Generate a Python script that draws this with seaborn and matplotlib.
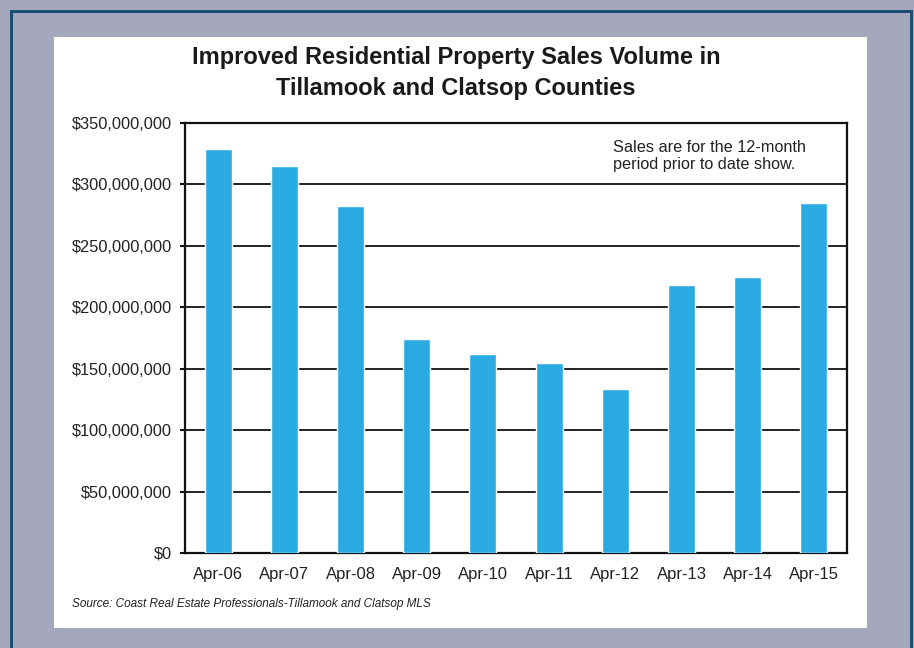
import matplotlib
matplotlib.use("Agg")
import matplotlib.pyplot as plt
from matplotlib.patches import Rectangle
from matplotlib.ticker import FuncFormatter, MultipleLocator
import seaborn as sns
import pandas as pd

# Sales volume for the 12-month period ending each April
periods = ["Apr-06", "Apr-07", "Apr-08", "Apr-09", "Apr-10",
           "Apr-11", "Apr-12", "Apr-13", "Apr-14", "Apr-15"]
sales_volume = [328.5e6, 314.6e6, 282.6e6, 173.9e6, 161.9e6,
                154.6e6, 133.4e6, 218.1e6, 224.8e6, 285.0e6]

title = "Improved Residential Property Sales Volume in\nTillamook and Clatsop Counties"
note = "Sales are for the 12-month\nperiod prior to date show."
source = "Source: Coast Real Estate Professionals-Tillamook and Clatsop MLS"

df = pd.DataFrame({"period": periods, "sales": sales_volume})

sns.set_style("white")
plt.rcParams["font.family"] = ["Liberation Sans", "DejaVu Sans"]

W, H = 914, 648
fig = plt.figure(figsize=(W / 100, H / 100), dpi=100)
fig.patch.set_facecolor("#A5A8BD")


def px_rect(x0, y0, x1, y1, color, z=-1):
    """Rectangle in pixel coordinates measured from the top-left corner."""
    fig.patches.append(Rectangle((x0 / W, 1 - y1 / H), (x1 - x0) / W, (y1 - y0) / H,
                                 transform=fig.transFigure, facecolor=color,
                                 edgecolor="none", zorder=z))


# dark frame around the panel
border = "#1D4E74"
px_rect(10, 10, 913, 13, border)
px_rect(10, 10, 13, 648, border)
px_rect(910, 10, 913, 648, border)
# white chart panel
px_rect(54, 37, 867, 628, "white")

ax = fig.add_axes([185 / W, 1 - 553 / H, (847 - 185) / W, (553 - 123) / H])
ax.set_zorder(2)
ax.set_facecolor("white")

sns.barplot(data=df, x="period", y="sales", color="#29ABE2", saturation=1,
            width=0.41, ax=ax, zorder=3)

ax.set_ylim(0, 350e6)
ax.set_xlim(-0.5, len(periods) - 0.5)
ax.yaxis.set_major_locator(MultipleLocator(50e6))
ax.yaxis.set_major_formatter(FuncFormatter(lambda v, _: f"${v:,.0f}"))
ax.yaxis.grid(True, color="#111111", linewidth=1.3, zorder=0)
ax.set_axisbelow(True)
ax.set_xlabel("")
ax.set_ylabel("")

# category ticks sit between the bars
ax.set_xticks(range(len(periods)))
ax.set_xticklabels(periods)
ax.set_xticks([i + 0.5 for i in range(-1, len(periods))], minor=True)
ax.tick_params(axis="x", which="major", length=0, pad=10, labelsize=12, labelcolor="#222222")
ax.tick_params(axis="x", which="minor", length=3.5, width=1.5, direction="out", color="#111111")
ax.tick_params(axis="y", which="major", length=3.5, width=1.5, direction="out", color="#111111",
               pad=6, labelsize=11.8, labelcolor="#222222")
ax.tick_params(left=True, bottom=True)

for side in ["left", "right", "top", "bottom"]:
    ax.spines[side].set_visible(True)
    ax.spines[side].set_color("#111111")
    ax.spines[side].set_linewidth(1.6)

fig.text(456 / W, 1 - 73 / H, title, ha="center", va="center", fontsize=17,
         fontweight="bold", color="#1A1A1A", linespacing=1.4)
ax.text(613 / W, 1 - 156 / H, note, transform=fig.transFigure, ha="left", va="center",
        fontsize=11.7, color="#222222", linespacing=1.1, zorder=5)
fig.text(72 / W, 1 - 604 / H, source, ha="left", va="center", fontsize=8.5,
         style="italic", color="#222222")

fig.savefig("out.png", dpi=100, facecolor=fig.get_facecolor())
